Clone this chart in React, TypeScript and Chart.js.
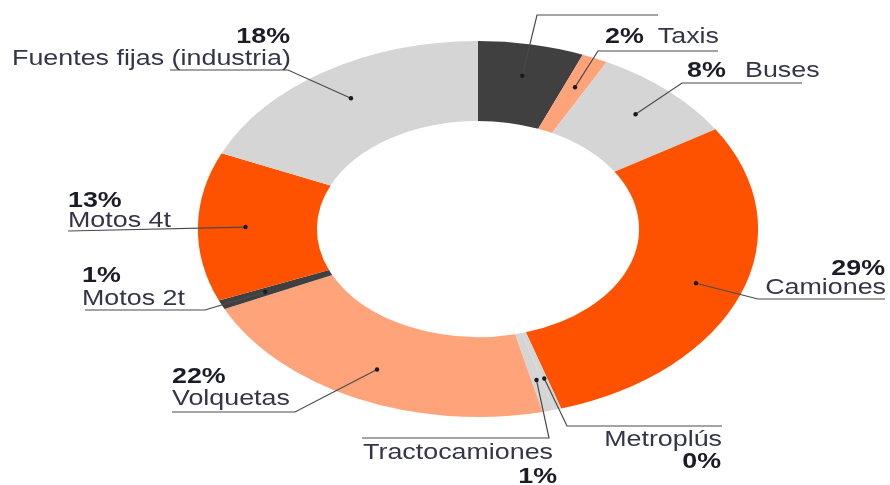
import React, { useEffect, useRef } from 'react';
import { Chart, registerables } from 'chart.js';

Chart.register(...registerables);

// ---- data ----
const categories = [
  'Automóviles',
  'Taxis',
  'Buses',
  'Camiones',
  'Metroplús',
  'Tractocamiones',
  'Volquetas',
  'Motos 2t',
  'Motos 4t',
  'Fuentes fijas (industria)',
];
const values = [6.1, 1.5, 8.5, 29.1, 0.4, 0.7, 21.7, 0.8, 12.8, 18.4];
const percentLabels = ['', '2%', '8%', '29%', '0%', '1%', '22%', '1%', '13%', '18%'];
const nameLabels = ['', 'Taxis', 'Buses', 'Camiones', 'Metroplús', 'Tractocamiones', 'Volquetas', 'Motos 2t', 'Motos 4t', 'Fuentes fijas (industria)'];

// ---- styles ----
const colors = ['#404040', '#FFA47A', '#D5D5D5', '#FF5200', '#D5D5D5', '#D5D5D5', '#FFA47A', '#404040', '#FF5200', '#D5D5D5'];
const SX = 1.49; // horizontal stretch of the ring
const TEXT_SX = 1.22; // horizontal stretch of the text
const FONT_SIZE = 22;

type TextSpec = { kind: 'pct' | 'name'; x: number; y: number; align: CanvasTextAlign };
type LabelLayout = { path: [number, number][]; texts: TextSpec[] };

const labelLayout: LabelLayout[] = [
  { path: [[537, 15], [658, 15]], texts: [] },
  { path: [[598, 51], [718, 51]], texts: [
    { kind: 'pct', x: 605, y: 43, align: 'left' },
    { kind: 'name', x: 719, y: 43, align: 'right' },
  ] },
  { path: [[682, 83], [802, 83]], texts: [
    { kind: 'pct', x: 687, y: 77, align: 'left' },
    { kind: 'name', x: 745, y: 77, align: 'left' },
  ] },
  { path: [[758, 299], [885, 299]], texts: [
    { kind: 'pct', x: 885, y: 275, align: 'right' },
    { kind: 'name', x: 886, y: 294, align: 'right' },
  ] },
  { path: [[567, 426], [722, 426]], texts: [
    { kind: 'name', x: 722, y: 446, align: 'right' },
    { kind: 'pct', x: 721, y: 468, align: 'right' },
  ] },
  { path: [[549, 438], [362, 438]], texts: [
    { kind: 'name', x: 553, y: 459, align: 'right' },
    { kind: 'pct', x: 557, y: 483, align: 'right' },
  ] },
  { path: [[295, 412], [172, 412]], texts: [
    { kind: 'pct', x: 172, y: 383, align: 'left' },
    { kind: 'name', x: 172, y: 405, align: 'left' },
  ] },
  { path: [[205, 310], [85, 310]], texts: [
    { kind: 'pct', x: 82, y: 282, align: 'left' },
    { kind: 'name', x: 82, y: 305, align: 'left' },
  ] },
  { path: [[68, 231]], texts: [
    { kind: 'pct', x: 68, y: 207, align: 'left' },
    { kind: 'name', x: 68, y: 227, align: 'left' },
  ] },
  { path: [[288, 70], [170, 70]], texts: [
    { kind: 'pct', x: 290, y: 43, align: 'right' },
    { kind: 'name', x: 12, y: 65, align: 'left' },
  ] },
];

const ellipsePlugin = {
  id: 'ellipseRing',
  beforeDatasetsDraw(chart: any) {
    const arc = chart.getDatasetMeta(0).data[0] as any;
    const ctx = chart.ctx as CanvasRenderingContext2D;
    ctx.save();
    ctx.translate(arc.x, arc.y);
    ctx.scale(SX, 1);
    ctx.translate(-arc.x, -arc.y);
  },
  afterDatasetsDraw(chart: any) {
    chart.ctx.restore();
  },
  afterDraw(chart: any) {
    const ctx = chart.ctx as CanvasRenderingContext2D;
    const arcs = chart.getDatasetMeta(0).data as any[];
    arcs.forEach((arc, i) => {
      const lay = labelLayout[i];
      if (!lay) return;
      const mid = (arc.startAngle + arc.endAngle) / 2;
      const r = arc.innerRadius + 0.6 * (arc.outerRadius - arc.innerRadius);
      const px = arc.x + Math.cos(mid) * r * SX;
      const py = arc.y + Math.sin(mid) * r;
      ctx.save();
      ctx.strokeStyle = '#4a4a4a';
      ctx.lineWidth = 1.2;
      ctx.beginPath();
      ctx.moveTo(px, py);
      lay.path.forEach(([x, y]) => ctx.lineTo(x, y));
      ctx.stroke();
      ctx.fillStyle = '#1a1a1a';
      ctx.beginPath();
      ctx.arc(px, py, 2.2, 0, Math.PI * 2);
      ctx.fill();
      lay.texts.forEach((t) => {
        const txt = t.kind === 'pct' ? percentLabels[i] : nameLabels[i];
        if (!txt) return;
        ctx.save();
        ctx.translate(t.x, t.y);
        ctx.scale(TEXT_SX, 1);
        ctx.font = `${t.kind === 'pct' ? 'bold ' : ''}${FONT_SIZE}px "Liberation Sans", Arial, sans-serif`;
        ctx.fillStyle = t.kind === 'pct' ? '#1c1c28' : '#35354a';
        ctx.textAlign = t.align;
        ctx.textBaseline = 'alphabetic';
        ctx.fillText(txt, 0, 0);
        ctx.restore();
      });
      ctx.restore();
    });
  },
};

export default function App() {
  const ref = useRef<HTMLCanvasElement | null>(null);
  useEffect(() => {
    if (!ref.current) return;
    const chart = new Chart(ref.current, {
      type: 'doughnut',
      data: {
        labels: categories,
        datasets: [
          {
            data: values,
            backgroundColor: colors,
            borderWidth: 0,
            clip: false as any,
          } as any,
        ],
      },
      options: {
        responsive: false,
        animation: false,
        cutout: '57.5%',
        layout: { padding: { left: 290, right: 224, top: 41, bottom: 68 } },
        plugins: {
          legend: { display: false },
          tooltip: { enabled: false },
        },
        events: [],
      },
      plugins: [ellipsePlugin],
    });
    return () => chart.destroy();
  }, []);
  return (
    <div style={{ position: 'fixed', left: 0, top: 0, width: 890, height: 485, background: '#fff' }}>
      <canvas ref={ref} width={890} height={485} style={{ width: 890, height: 485, display: 'block' }} />
    </div>
  );
}
